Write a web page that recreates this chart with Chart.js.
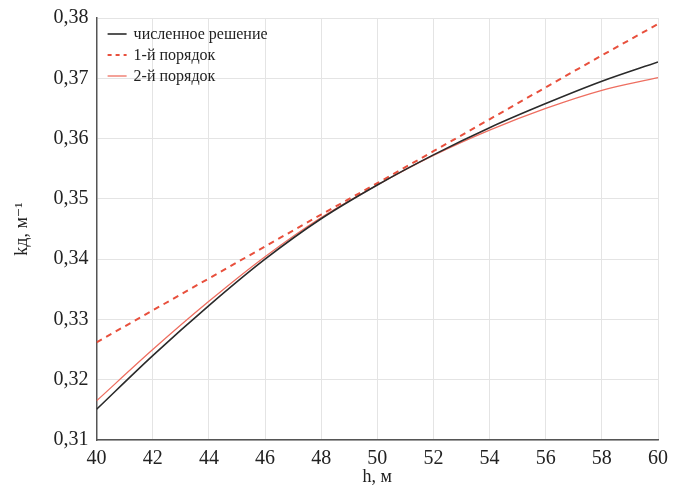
<!DOCTYPE html>
<html>
<head>
<meta charset="utf-8">
<script src="https://cdn.jsdelivr.net/npm/chart.js@4.4.0/dist/chart.umd.min.js"></script>
<style>
html,body{margin:0;padding:0;background:#fff;}
#wrap{width:685px;height:486px;}
</style>
</head>
<body>
<div id="wrap"><canvas id="c" width="685" height="486"></canvas></div>
<script>
const hValues = [40, 42, 44, 46, 48, 50, 52, 54, 56, 58, 60];
const numerical = [0.3151, 0.3240, 0.3323, 0.3400, 0.3467, 0.3523, 0.3573, 0.3618, 0.3658, 0.3695, 0.3727];
const firstOrder = [0.3262, 0.3315, 0.3368, 0.3421, 0.3474, 0.3526, 0.3579, 0.3632, 0.3685, 0.3738, 0.3790];
const secondOrder = [0.3165, 0.3250, 0.3330, 0.3404, 0.3469, 0.3523, 0.3572, 0.3614, 0.3650, 0.3680, 0.3701];
const seriesLabels = ['численное решение', '1-й порядок', '2-й порядок'];
const xTitle = 'h, м';
const yTitle = 'kд, м⁻¹';

const toPts = arr => hValues.map((h, i) => ({x: h, y: arr[i]}));
const serif = '"Liberation Serif", "DejaVu Serif", serif';

// legend drawn inside the plot area, top-left, from dataset labels/styles
const insideLegend = {
  id: 'insideLegend',
  afterDatasetsDraw(chart) {
    const {ctx, chartArea} = chart;
    ctx.save();
    ctx.font = '16px ' + serif;
    ctx.textBaseline = 'middle';
    ctx.textAlign = 'left';
    chart.data.datasets.forEach((ds, i) => {
      const y = chartArea.top + 16 + i * 21;
      const x0 = chartArea.left + 11;
      ctx.strokeStyle = ds.borderColor;
      ctx.lineWidth = ds.borderWidth;
      ctx.setLineDash(ds.borderDash ? [4, 4] : []);
      ctx.beginPath();
      ctx.moveTo(x0, y);
      ctx.lineTo(x0 + 19, y);
      ctx.stroke();
      ctx.setLineDash([]);
      ctx.fillStyle = '#222';
      ctx.fillText(ds.label, x0 + 26, y + 1);
    });
    ctx.restore();
  }
};

new Chart(document.getElementById('c'), {
  type: 'line',
  data: {
    datasets: [
      {label: seriesLabels[0], data: toPts(numerical), borderColor: '#2a2a2a', borderWidth: 1.6, pointRadius: 0, cubicInterpolationMode: 'monotone', fill: false},
      {label: seriesLabels[1], data: toPts(firstOrder), borderColor: '#e8503d', borderWidth: 2, borderDash: [6, 5], pointRadius: 0, fill: false},
      {label: seriesLabels[2], data: toPts(secondOrder), borderColor: '#ee6e60', borderWidth: 1.3, pointRadius: 0, cubicInterpolationMode: 'monotone', fill: false}
    ]
  },
  options: {
    responsive: false,
    animation: false,
    devicePixelRatio: 1,
    layout: {padding: {top: 0, right: 27, bottom: 0, left: 11}},
    plugins: {
      legend: {display: false},
      tooltip: {enabled: false}
    },
    scales: {
      x: {
        type: 'linear', min: 40, max: 60,
        afterFit(scale) { scale.height = 46; },
        ticks: {stepSize: 2, color: '#222', font: {family: serif, size: 20, lineHeight: 1}, padding: 9},
        grid: {color: '#e4e4e4', drawTicks: false},
        border: {color: '#555', width: 1.5},
        title: {display: true, text: xTitle, color: '#222', font: {family: serif, size: 18, lineHeight: 1}, padding: {top: 0, bottom: 0}}
      },
      y: {
        type: 'linear', min: 0.31, max: 0.38,
        ticks: {stepSize: 0.01, color: '#222', font: {family: serif, size: 20, lineHeight: 1}, padding: 8,
          callback: v => v.toFixed(2).replace('.', ',')},
        grid: {color: '#e4e4e4', drawTicks: false},
        border: {color: '#555', width: 1.5},
        title: {display: true, text: yTitle, color: '#222', font: {family: serif, size: 18}, padding: {top: 0, bottom: 13}}
      }
    }
  },
  plugins: [insideLegend]
});
</script>
</body>
</html>
